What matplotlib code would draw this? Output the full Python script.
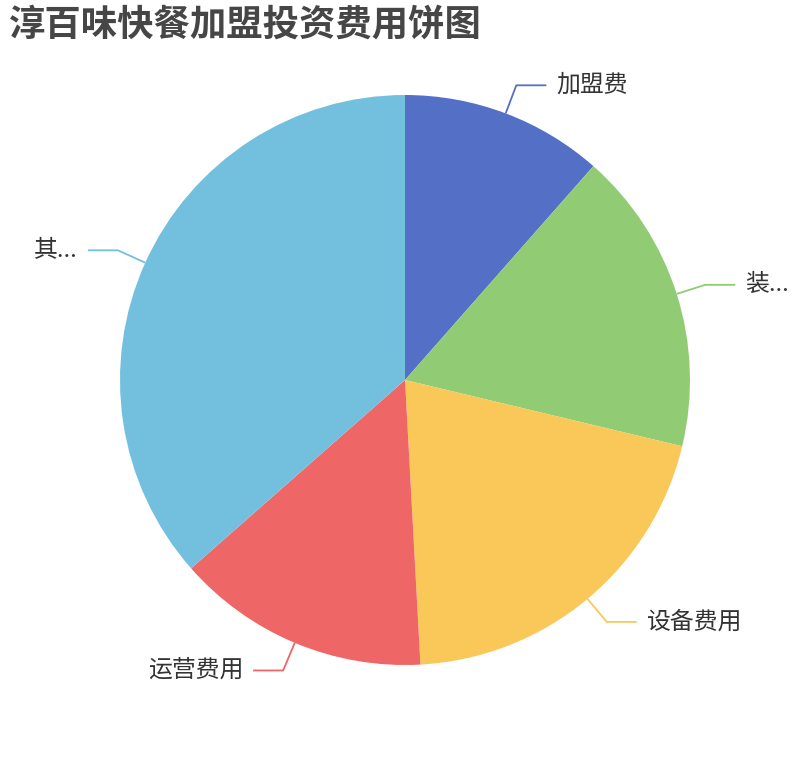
import numpy as np
import matplotlib
matplotlib.use('Agg')
import matplotlib.pyplot as plt

plt.rcParams['font.family'] = ['Noto Sans CJK SC', 'DejaVu Sans']

title = '淳百味快餐加盟投资费用饼图'
labels = ['加盟费', '装...', '设备费用', '运营费用', '其...']
values = [4.0, 6.0, 7.1, 5.0, 12.7]
colors = ['#5470c6', '#91cc75', '#fac858', '#ee6666', '#73c0de']

W, H = 810, 760
fig = plt.figure(figsize=(W / 100, H / 100), dpi=100)
ax = fig.add_axes([0, 0, 1, 1])

cx, cy, R = 405, H - 380, 285
wedges, _ = ax.pie(values, colors=colors, startangle=90, counterclock=False,
                   center=(cx, cy), radius=R, frame=True,
                   wedgeprops=dict(linewidth=0))

len1, len2, gap = 30, 30, 10
for w, lab, col in zip(wedges, labels, colors):
    mid = np.deg2rad((w.theta1 + w.theta2) / 2)
    x0, y0 = cx + R * np.cos(mid), cy + R * np.sin(mid)
    x1, y1 = cx + (R + len1) * np.cos(mid), cy + (R + len1) * np.sin(mid)
    side = 1 if np.cos(mid) >= 0 else -1
    x2 = x1 + side * len2
    ax.plot([x0, x1, x2], [y0, y1, y1], color=col, lw=1.3, solid_capstyle='butt')
    ax.text(x2 + side * gap, y1, lab, fontsize=17.2, color='#333333',
            ha='left' if side > 0 else 'right', va='center')

ax.set_xlim(0, W)
ax.set_ylim(0, H)
ax.set_aspect('equal')
ax.axis('off')

fig.text(9 / W, 1 - 25 / H, title, fontsize=26.2, fontweight='bold',
         color='#464646', ha='left', va='center')

fig.savefig('out.png', dpi=100)
